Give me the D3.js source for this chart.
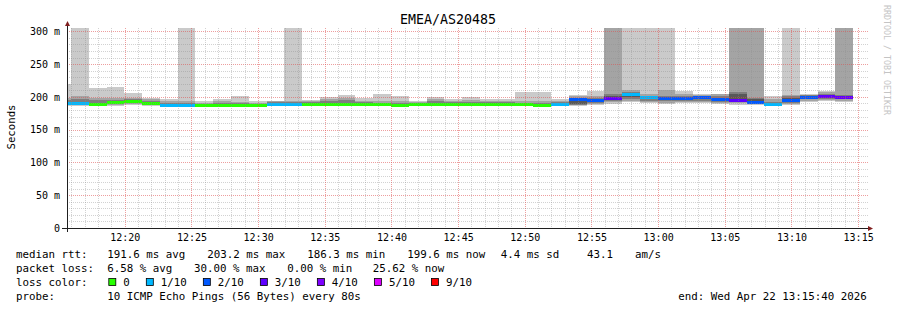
<!DOCTYPE html>
<html>
<head>
<meta charset="utf-8">
<script src="https://cdn.jsdelivr.net/npm/d3@7"></script>
<style>
  body { margin: 0; background: #fff; }
  text { font-family: "DejaVu Sans Mono", monospace; }
</style>
</head>
<body>
<div id="chart"></div>
<script>
// smokeping data, one entry per 80s step
var stepStart = new Date(2026, 3, 22, 12, 14, 38);
var stepSeconds = 80;
var graphStart = new Date(2026, 3, 22, 12, 15, 40);
var graphEnd = new Date(2026, 3, 22, 13, 15, 40);

var medians = [190.5, 189.6, 189, 191, 193, 190, 187, 187, 187, 187.5,
  186.3, 187, 188, 188.5, 188.6, 188.6, 188.5, 188.6, 188, 187,
  189, 189, 189, 189, 188.5, 188.5, 188, 187, 188, 195.5,
  195, 197, 203.2, 198.3, 197, 198, 198.5, 195.5, 194, 192,
  188, 194, 199.5, 200, 199.6];

var losses = [1, 1, 0, 0, 0, 0, 1, 1, 0, 0,
  0, 0, 1, 1, 0, 0, 0, 0, 0, 0,
  0, 0, 0, 0, 0, 0, 0, 0, 1, 2,
  2, 3, 1, 1, 2, 2, 2, 2, 3, 2,
  1, 2, 2, 3, 3];

// sorted ping rtts (ms); 400 = off the chart
var pings = [
  [186, 187, 188, 189.5, 190, 191, 192, 195, 199, 219],
  [186, 187, 188, 189, 189.5, 190, 192, 196, 201, 400],
  [186, 187, 188, 188.5, 189, 189.5, 191, 195, 199, 213.5],
  [186.5, 187.5, 189, 190, 190.5, 191.5, 193, 195, 198, 215.5],
  [188, 189, 190.5, 192, 192.5, 193.5, 195, 197, 199, 206],
  [186.5, 187.5, 188.5, 189.5, 190, 190.5, 192, 194, 197, 199],
  [185, 185.5, 186, 186.5, 187, 187.5, 189, 191, 194, 196],
  [185, 185.5, 186, 186.5, 187, 187.5, 188.5, 190, 193, 400],
  [185, 185.5, 186, 186.5, 187, 187.5, 188, 189, 191, 194],
  [185.5, 186, 186.5, 187, 187.5, 188, 189.5, 191, 193, 197],
  [185, 185.5, 186, 186.3, 186.3, 187, 188.5, 190, 192, 201],
  [185, 185.5, 186, 186.5, 187, 187.5, 188, 189.5, 191, 194],
  [185.5, 186, 186.5, 187, 187.5, 188.5, 190, 192, 193, 194],
  [186, 186.5, 187, 187.5, 188, 189, 190, 191.5, 193, 400],
  [186, 186.5, 187, 188, 188.5, 189, 190, 191.5, 193, 195],
  [186, 186.5, 187, 188, 188.5, 189, 191, 193, 196, 200],
  [186, 187, 187.5, 188, 188.5, 189, 191, 195, 199, 203],
  [186, 186.5, 187, 188, 188.5, 189, 190, 192, 194, 198],
  [186, 186.5, 187, 187.5, 188, 188.5, 189.5, 191, 194, 204],
  [185, 185.5, 186, 186.5, 187, 187.5, 188.5, 190, 193, 202],
  [186.5, 187, 187.5, 188.5, 189, 189.5, 190, 191, 192, 193],
  [186.5, 187, 188, 188.5, 189, 189.5, 191, 193, 196, 200],
  [186.5, 187, 188, 188.5, 189, 189.5, 190.5, 192, 194, 197],
  [186.5, 187, 187.5, 188.5, 189, 189.5, 190.5, 192, 195, 200],
  [186, 186.5, 187, 188, 188.5, 189, 190, 191.5, 193, 196],
  [186, 186.5, 187, 188, 188.5, 189, 190, 191.5, 193, 196],
  [185.5, 186, 186.5, 187.5, 188, 188.5, 189.5, 191, 194, 207],
  [185, 185.5, 186, 186.5, 187, 187.5, 188.5, 190, 193, 207],
  [186, 186.5, 187, 187.5, 188, 188.5, 190, 192, 194, 196],
  [186.5, 187.5, 188, 189, 194, 196, 197.5, 199, 201, 203],
  [188, 189, 190, 192, 194, 195.5, 197, 199, 202, 208.5],
  [189.5, 192, 194, 195.5, 196.5, 198, 202, 204, 400, 400],
  [192, 194, 197, 200, 202.5, 204.5, 206, 208, 210, 400],
  [190, 192, 194, 196, 197.5, 199, 201, 202, 204, 400],
  [189, 191, 193, 195, 196.5, 197.5, 199, 202, 210, 400],
  [190, 192, 194, 196, 197.5, 198.5, 200, 202, 204, 209],
  [190, 192, 194, 196, 198, 199, 200.5, 202, 203, 204],
  [189, 190.5, 192, 194, 195, 196.5, 199, 202, 204, 204.5],
  [188, 190, 191.5, 193, 193.5, 196, 205, 207, 400, 400],
  [187, 188.5, 190, 191, 191.5, 193, 196, 198, 400, 400],
  [186, 186.5, 187, 187.5, 188, 188.5, 190, 192, 196, 201],
  [188, 189.5, 191, 192.5, 193.5, 195, 198, 201, 203, 400],
  [192, 194, 196, 198, 199, 200, 201.5, 202.5, 203.5, 204],
  [193, 195, 197, 198.5, 199.5, 200.5, 202, 204, 207, 209],
  [192, 194, 196, 198, 199, 200, 201.5, 203, 400, 400]
];

var lossColors = ["#26ff00", "#00b8ff", "#0059ff", "#5e00ff", "#7e00ff", "#dd00ff", "#ff0000"];
var lossLabels = ["0", "1/10", "2/10", "3/10", "4/10", "5/10", "9/10"];
var smokeGrays = ["#cacaca", "#a4a4a4", "#7e7e7e", "#585858", "#323232"];
var yTicks = [0, 50, 100, 150, 200, 250, 300];

var rttStats = ["191.6 ms avg", "203.2 ms max", "186.3 ms min", "199.6 ms now", "4.4 ms sd", "43.1", "am/s"];
var lossStats = ["6.58 % avg", "30.00 % max", "0.00 % min", "25.62 % now"];
var probeText = "10 ICMP Echo Pings (56 Bytes) every 80s";
var endText = "end: Wed Apr 22 13:15:40 2026";

var svgWidth = 897;
var svgHeight = 310;
var plot = { left: 67, top: 28, right: 867, bottom: 228 };

var svg = d3.select("#chart")
  .append("svg")
  .attr("width", svgWidth)
  .attr("height", svgHeight);

svg.append("rect").attr("width", svgWidth).attr("height", svgHeight).attr("fill", "#fff");

var x = d3.scaleTime()
  .domain([graphStart, graphEnd])
  .range([plot.left, plot.right]);

var y = d3.scaleLinear()
  .domain([0, 305])
  .range([plot.bottom, plot.top]);

svg.append("clipPath").attr("id", "plotclip")
  .append("rect")
  .attr("x", plot.left).attr("y", plot.top)
  .attr("width", plot.right - plot.left).attr("height", plot.bottom - plot.top);

var data = medians.map(function(m, i) {
  var t0 = new Date(stepStart.getTime() + i * stepSeconds * 1000);
  var t1 = new Date(t0.getTime() + stepSeconds * 1000);
  return { t0: t0, t1: t1, median: m, loss: losses[i], pings: pings[i] };
});

var plotGroup = svg.append("g").attr("clip-path", "url(#plotclip)");

// smoke bands, outer to inner
smokeGrays.forEach(function(col, b) {
  plotGroup.append("g").selectAll("rect")
    .data(data)
    .enter()
    .append("rect")
    .attr("x", d => x(d.t0))
    .attr("width", d => x(d.t1) - x(d.t0))
    .attr("y", d => y(Math.min(d.pings[9 - b], 305)))
    .attr("height", d => y(d.pings[b]) - y(Math.min(d.pings[9 - b], 305)))
    .attr("fill", col)
    .attr("shape-rendering", "crispEdges");
});

// median coloured by loss
function lossIndex(l) { return l > 5 ? 6 : l; }
plotGroup.append("g").selectAll("rect")
  .data(data)
  .enter()
  .append("rect")
  .attr("x", d => x(d.t0))
  .attr("width", d => x(d.t1) - x(d.t0))
  .attr("y", d => y(d.median) - 1.5)
  .attr("height", 3)
  .attr("fill", d => lossColors[lossIndex(d.loss)])
  .attr("shape-rendering", "crispEdges");

// grid on top
var grid = svg.append("g");
d3.range(10, 310, 10).forEach(function(v) {
  var yy = Math.round(y(v)) + 0.5;
  var major = v % 50 === 0;
  grid.append("line")
    .attr("x1", plot.left).attr("x2", plot.right + 2)
    .attr("y1", yy).attr("y2", yy)
    .attr("stroke", major ? "rgba(222,79,79,0.55)" : "rgba(143,143,143,0.4)")
    .attr("stroke-dasharray", "1,1");
});
d3.timeMinute.range(graphStart, graphEnd).forEach(function(t) {
  var xx = Math.round(x(t)) + 0.5;
  var major = t.getMinutes() % 5 === 0;
  grid.append("line")
    .attr("x1", xx).attr("x2", xx)
    .attr("y1", plot.top).attr("y2", plot.bottom)
    .attr("stroke", major ? "rgba(222,79,79,0.55)" : "rgba(143,143,143,0.4)")
    .attr("stroke-dasharray", "1,1");
});

// axes
var bottomAxis = d3.axisBottom(x)
  .ticks(d3.timeMinute.every(5))
  .tickFormat(d3.timeFormat("%H:%M"))
  .tickSize(0)
  .tickPadding(6);
var xAxisG = svg.append("g")
  .attr("transform", `translate(0, ${plot.bottom})`)
  .call(bottomAxis);
xAxisG.select(".domain").remove();
xAxisG.selectAll("text").attr("font-size", 10).attr("font-family", "DejaVu Sans Mono").attr("fill", "#000");

var leftAxis = d3.axisLeft(y)
  .tickValues(yTicks)
  .tickFormat(v => v ? v + " m" : "0")
  .tickSize(0)
  .tickPadding(7);
var yAxisG = svg.append("g")
  .attr("transform", `translate(${plot.left}, 0)`)
  .call(leftAxis);
yAxisG.select(".domain").remove();
yAxisG.selectAll("text").attr("font-size", 10).attr("font-family", "DejaVu Sans Mono").attr("fill", "#000");

svg.append("line")
  .attr("x1", 62).attr("x2", plot.right + 2)
  .attr("y1", plot.bottom + 0.5).attr("y2", plot.bottom + 0.5)
  .attr("stroke", "#1f1f1f");
svg.append("line")
  .attr("x1", plot.left + 0.5).attr("x2", plot.left + 0.5)
  .attr("y1", plot.bottom + 4).attr("y2", 25)
  .attr("stroke", "#1f1f1f");
svg.append("path")
  .attr("d", `M${plot.right + 1},${plot.bottom - 2} L${plot.right + 6},${plot.bottom + 0.5} L${plot.right + 1},${plot.bottom + 3} Z`)
  .attr("fill", "#801f1f");
svg.append("path")
  .attr("d", `M${plot.left - 2},26 L${plot.left + 0.5},21 L${plot.left + 3},26 Z`)
  .attr("fill", "#801f1f");

// title, axis label, watermark
svg.append("text")
  .attr("x", 448).attr("y", 24)
  .attr("text-anchor", "middle")
  .attr("font-size", 13.3)
  .text("EMEA/AS20485");

svg.append("text")
  .attr("transform", "translate(15,127) rotate(-90)")
  .attr("text-anchor", "middle")
  .attr("font-size", 10.7)
  .text("Seconds");

svg.append("text")
  .attr("transform", "translate(884,5) rotate(90)")
  .attr("font-size", 8.3)
  .attr("fill", "#c4c4c4")
  .text("RRDTOOL / TOBI OETIKER");

// legend
var legend = svg.append("g").attr("font-size", 10.8).attr("fill", "#000");
var rttX = [107.3, 207.3, 307.3, 407.3, 500.7, 587, 635];
var lossX = [107.3, 194, 287.3, 372.7];

legend.append("text").attr("x", 16).attr("y", 257.5).text("median rtt:");
rttStats.forEach(function(s, i) {
  legend.append("text").attr("x", rttX[i]).attr("y", 257.5).text(s);
});
legend.append("text").attr("x", 16).attr("y", 271.5).text("packet loss:");
lossStats.forEach(function(s, i) {
  legend.append("text").attr("x", lossX[i]).attr("y", 271.5).text(s);
});
legend.append("text").attr("x", 16).attr("y", 285.5).text("loss color:");
var cursor = 108.3;
lossLabels.forEach(function(lab, i) {
  legend.append("rect")
    .attr("x", cursor + 0.5).attr("y", 278.5)
    .attr("width", 7).attr("height", 7)
    .attr("fill", lossColors[i])
    .attr("stroke", "#000").attr("stroke-width", 0.8);
  var t = legend.append("text").attr("x", cursor + 15).attr("y", 285.5).text(lab);
  cursor = cursor + 15 + t.node().getComputedTextLength() + 16;
});
legend.append("text").attr("x", 16).attr("y", 299.5).text("probe:");
legend.append("text").attr("x", 107.3).attr("y", 299.5).text(probeText);
legend.append("text").attr("x", 678.3).attr("y", 299.5).text(endText);
</script>
</body>
</html>
